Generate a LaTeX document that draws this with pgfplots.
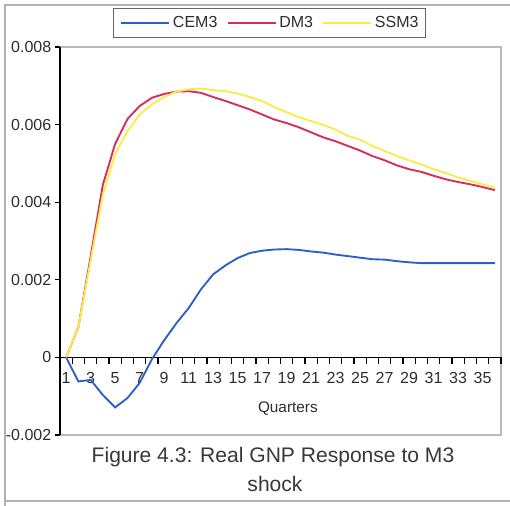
\documentclass[border=0pt]{standalone}
\usepackage{pgfplots}
\pgfplotsset{compat=1.18}
\usepackage{fontspec}
\setmainfont{Liberation Sans}
\definecolor{cemblue}{RGB}{45,95,200}
\definecolor{dmred}{RGB}{212,45,90}
\definecolor{ssmyellow}{RGB}{250,236,70}
\definecolor{txtgray}{RGB}{45,45,45}

\pgfplotstableread{
q cem dm ssm
1 0 0 0
2 -0.00062 0.00078 0.00078
3 -0.00058 0.0026 0.0025
4 -0.00097 0.00445 0.0042
5 -0.00129 0.0055 0.00524
6 -0.00105 0.00614 0.00583
7 -0.00066 0.00648 0.00626
8 -0.00005 0.00669 0.00652
9 0.00044 0.00679 0.00671
10 0.00088 0.00685 0.00685
11 0.00127 0.00686 0.00691
12 0.00175 0.00682 0.00693
13 0.00214 0.00671 0.00689
14 0.00237 0.00661 0.00686
15 0.00256 0.0065 0.0068
16 0.00269 0.00639 0.00671
17 0.00275 0.00626 0.00661
18 0.00278 0.00613 0.00645
19 0.00279 0.00604 0.00632
20 0.00277 0.00593 0.00619
21 0.00273 0.0058 0.00609
22 0.0027 0.00567 0.00599
23 0.00265 0.00557 0.00587
24 0.00261 0.00545 0.00571
25 0.00257 0.00533 0.00561
26 0.00253 0.00519 0.00545
27 0.00252 0.00508 0.00532
28 0.00248 0.00495 0.00519
29 0.00245 0.00485 0.00508
30 0.00243 0.00478 0.00497
31 0.00243 0.00468 0.00485
32 0.00243 0.00459 0.00475
33 0.00243 0.00452 0.00464
34 0.00243 0.00446 0.00455
35 0.00243 0.00439 0.00446
36 0.00243 0.00431 0.00437
}\gnpdata

\begin{document}
\begin{tikzpicture}
\begin{axis}[
  scale only axis,
  width=330.75pt, height=291pt,
  xmin=0.5, xmax=36.5,
  ymin=-0.002, ymax=0.008,
  clip=false,
  axis x line=middle, axis y line=left,
  axis line style={-, black, line width=0.9pt},
  axis background/.style={draw=gray!55, line width=1.3pt},
  hide obscured x ticks=false, hide obscured y ticks=false,
  tick align=outside,
  major tick length=4pt,
  tick style={black, line width=0.9pt},
  % labels at every other quarter, tick marks drawn between quarters below
  xtick={0.5,1.5,...,36.5},
  xticklabels={1,,3,,5,,7,,9,,11,,13,,15,,17,,19,,21,,23,,25,,27,,29,,31,,33,,35,,},
  ytick={-0.002,0,0.002,0.004,0.006,0.008},
  yticklabels={-0.002,0,0.002,0.004,0.006,0.008},
  scaled y ticks=false,
  tick label style={font=\fontsize{12}{14}\selectfont, text=txtgray},
  yticklabel style={xshift=1pt},
  xticklabel style={xshift=4.59pt, yshift=-4pt},
  legend columns=3,
  legend image code/.code={\draw[#1] (0pt,0pt) -- (36pt,0pt);},
  legend style={at={(0.475,1.062)}, anchor=center, draw=gray!80!black,
    line width=0.9pt, inner xsep=5pt, inner ysep=6pt,
    font=\fontsize{12}{14}\selectfont, text=txtgray,
    nodes={inner sep=0pt},
    /tikz/every odd column/.append style={column sep=2pt},
    /tikz/every even column/.append style={column sep=7pt}},
]
\addplot[cemblue, line width=1.4pt] table[x=q, y=cem] {\gnpdata};
\addlegendentry{CEM3}
\addplot[dmred, line width=1.4pt] table[x=q, y=dm] {\gnpdata};
\addlegendentry{DM3}
\addplot[ssmyellow, line width=1.4pt] table[x=q, y=ssm] {\gnpdata};
\addlegendentry{SSM3}
\pgfplotsinvokeforeach{0.5,1.5,...,36.5}{
  \draw[black, line width=1pt] (axis cs:#1,0) -- ++(0pt,-5pt);
}
\node[font=\fontsize{11.5}{13}\selectfont, text=txtgray] at (axis cs:19.1,-0.00132) {Quarters};
\end{axis}
\begin{scope}[x=0.75pt, y=-0.75pt, shift={(-45pt,326.25pt)}]
\draw[gray!60, line width=0.9pt] (5,506) -- (5,5) -- (510,5);
\draw[gray!60, line width=0.9pt] (5,501) -- (510,501);
\node[font=\fontsize{15.8}{18}\selectfont, text=black!78] at (273,457) {Figure 4.3: Real GNP Response to M3};
\node[font=\fontsize{15.8}{18}\selectfont, text=black!78] at (275,484) {shock};
\pgfresetboundingbox
\path[use as bounding box] (0,0) rectangle (510,506);
\end{scope}
\end{tikzpicture}
\end{document}
